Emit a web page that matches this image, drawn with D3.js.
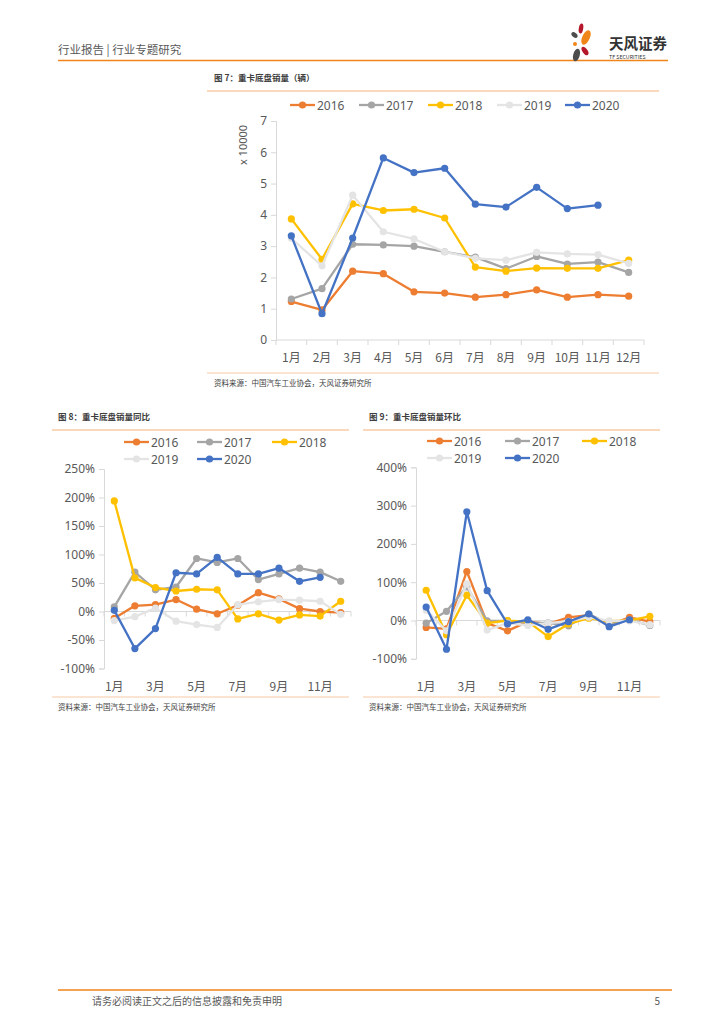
<!DOCTYPE html>
<html>
<head>
<meta charset="utf-8">
<script src="https://cdn.jsdelivr.net/npm/d3@7/dist/d3.min.js"></script>
<style>
html,body{margin:0;padding:0;background:#fff;}
svg{display:block;font-family:"Noto Sans CJK SC","Noto Sans",sans-serif;}
</style>
</head>
<body>
<svg id="page" width="724" height="1024"></svg>
<script>
// ---------- data ----------
const months = ["1月","2月","3月","4月","5月","6月","7月","8月","9月","10月","11月","12月"];
const years = ["2016","2017","2018","2019","2020"];
const colors = ["#ED7D31","#A5A5A5","#FFC000","#E4E4E4","#4472C4"];

// Fig 7: sales, x 10000 units
const sales2016 = [1.23,0.96,2.20,2.12,1.54,1.50,1.37,1.45,1.60,1.37,1.45,1.40];
const sales2017 = [1.31,1.64,3.06,3.04,3.00,2.82,2.65,2.28,2.67,2.43,2.49,2.16];
const sales2018 = [3.87,2.58,4.35,4.14,4.18,3.90,2.33,2.20,2.30,2.29,2.29,2.55];
const sales2019 = [3.25,2.37,4.63,3.46,3.23,2.82,2.61,2.55,2.80,2.75,2.73,2.45];
const sales2020 = [3.33,0.84,3.26,5.82,5.35,5.49,4.34,4.25,4.88,4.20,4.31];
const salesTicks = [0,1,2,3,4,5,6,7];

// Fig 8: YoY (%)
const yoy2016 = [-12,10,12,21,4,-4,11,33,22,5,0,-2];
const yoy2017 = [8,69,38,43,93,86,93,56,66,76,69,53];
const yoy2018 = [194,59,42,36,39,38,-13,-4,-15,-6,-8,18];
const yoy2019 = [-16,-9,6,-17,-23,-28,12,17,21,20,18,-5];
const yoy2020 = [2,-65,-30,68,66,95,66,66,76,53,60];
const yoyTicks = [-100,-50,0,50,100,150,200,250];

// Fig 9: MoM (%)
const mom2016 = [-18,-22,128,-7,-27,-3,-9,8,14,-12,8,-3];
const mom2017 = [-7,24,88,-1,-1,-6,-6,-14,17,-9,2,-13];
const mom2018 = [79,-37,66,-7,0,-3,-42,-9,6,-2,0,11];
const mom2019 = [27,-27,96,-25,-7,-13,-7,-2,9,-1,-1,-11];
const mom2020 = [35,-75,284,78,-9,2,-23,-3,17,-16,2];
const momTicks = [-100,0,100,200,300,400];
const sparseMonths = ["1月","3月","5月","7月","9月","11月"];

// ---------- page ----------
const svg = d3.select("#page");
const ORANGE = "#F08519";
const TXT = "#595959";

// header
svg.append("text").attr("x",58).attr("y",54).attr("font-size",11.5).attr("fill",TXT)
  .text("行业报告 | 行业专题研究");
svg.append("line").attr("x1",58).attr("x2",668).attr("y1",60.5).attr("y2",60.5)
  .attr("stroke",ORANGE).attr("stroke-width",1.3);
// logo
const logo = svg.append("g");
logo.append("ellipse").attr("cx",581).attr("cy",28.5).attr("rx",2.2).attr("ry",5).attr("transform","rotate(10,581,28.5)").attr("fill","#B5172B");
logo.append("ellipse").attr("cx",574.5).attr("cy",35).attr("rx",2.2).attr("ry",3.6).attr("transform","rotate(-50,574.5,35)").attr("fill","#4D4D4D");
logo.append("ellipse").attr("cx",586).attr("cy",37.5).attr("rx",3.8).attr("ry",7.8).attr("transform","rotate(25,586,37.5)").attr("fill","#F08519");
logo.append("ellipse").attr("cx",575).attr("cy",44).attr("rx",2).attr("ry",2).attr("fill","#F08519");
logo.append("ellipse").attr("cx",585).attr("cy",51).attr("rx",2.5).attr("ry",4.8).attr("transform","rotate(-35,585,51)").attr("fill","#B5172B");
logo.append("ellipse").attr("cx",576.5).attr("cy",55).attr("rx",3.3).attr("ry",6.5).attr("transform","rotate(15,576.5,55)").attr("fill","#4D4D4D");
svg.append("text").attr("x",609).attr("y",48.5).attr("font-size",14.5).attr("font-weight","bold").attr("fill","#333").text("天风证券");
svg.append("text").attr("x",609).attr("y",58.5).attr("font-size",5.3).attr("fill","#333").text("TF SECURITIES");

// footer
svg.append("line").attr("x1",58).attr("x2",672).attr("y1",990).attr("y2",990).attr("stroke",ORANGE).attr("stroke-width",1.3);
svg.append("text").attr("x",92).attr("y",1005).attr("font-size",10).attr("fill",TXT).text("请务必阅读正文之后的信息披露和免责申明");
svg.append("text").attr("x",660).attr("y",1005).attr("font-size",10).attr("fill",TXT).attr("text-anchor","end").text("5");

// ---------- chart helper ----------
function frame(cfg){
  svg.append("text").attr("x",cfg.tx).attr("y",cfg.ty).attr("font-size",8.5).attr("font-weight","bold").attr("fill","#404040").text(cfg.title);
  svg.append("line").attr("x1",cfg.fx1).attr("x2",cfg.fx2).attr("y1",cfg.ty+10).attr("y2",cfg.ty+10).attr("stroke","#F8CBA5").attr("stroke-width",1.5);
  svg.append("line").attr("x1",cfg.fx1).attr("x2",cfg.fx2).attr("y1",cfg.by).attr("y2",cfg.by).attr("stroke","#F8CBA5").attr("stroke-width",1.2);
  svg.append("text").attr("x",cfg.tx).attr("y",cfg.by+13).attr("font-size",7.5).attr("fill","#404040").text("资料来源：中国汽车工业协会，天风证券研究所");
}

function lineChart(cfg){
  const x = d3.scaleBand().domain(months).range([cfg.x0,cfg.x1]);
  const y = d3.scaleLinear().domain(cfg.domain).range([cfg.y0,cfg.y1]);
  const g = svg.append("g");
  // y axis
  const ya = g.append("g").attr("transform",`translate(${cfg.x0},0)`)
    .call(d3.axisLeft(y).tickValues(cfg.ticks).tickSize(5).tickPadding(cfg.ypad).tickFormat(cfg.yfmt));
  ya.select(".domain").attr("stroke","#D9D9D9");
  ya.selectAll(".tick line").attr("stroke","#D9D9D9");
  ya.selectAll(".tick text").attr("fill",TXT).attr("font-size",cfg.fs).attr("font-family","'Noto Sans','Noto Sans CJK SC',sans-serif");
  // x axis line at baseline
  const base = y(cfg.base);
  g.append("line").attr("x1",cfg.x0).attr("x2",cfg.x1).attr("y1",base).attr("y2",base).attr("stroke","#D9D9D9").attr("stroke-width",1);
  const edges = months.map(m=>x(m)).concat([x(months[11])+x.bandwidth()]);
  g.selectAll(".xt").data(edges).enter().append("line")
    .attr("x1",d=>d).attr("x2",d=>d).attr("y1",base).attr("y2",base+5).attr("stroke","#D9D9D9");
  // x labels
  g.selectAll(".xl").data(cfg.xlabels).enter().append("text")
    .attr("x",d=>x(d)+x.bandwidth()/2).attr("y",cfg.xly).attr("text-anchor","middle")
    .attr("font-size",cfg.fs).attr("fill",TXT).text(d=>d);
  // series
  const line = d3.line().x((d,i)=>x(months[i])+x.bandwidth()/2).y(d=>y(d));
  cfg.series.forEach((s,k)=>{
    g.append("path").datum(s).attr("d",line).attr("fill","none").attr("stroke",colors[k]).attr("stroke-width",2.3).attr("stroke-linejoin","round");
    g.selectAll(null).data(s).enter().append("circle")
      .attr("cx",(d,i)=>x(months[i])+x.bandwidth()/2).attr("cy",d=>y(d)).attr("r",3.6).attr("fill",colors[k]);
  });
  // legend
  cfg.legend.forEach((p,k)=>{
    const lg = g.append("g").attr("transform",`translate(${p[0]},${p[1]})`);
    lg.append("line").attr("x1",0).attr("x2",cfg.lw).attr("stroke",colors[k]).attr("stroke-width",2.3);
    lg.append("circle").attr("cx",cfg.lw/2).attr("r",3.6).attr("fill",colors[k]);
    lg.append("text").attr("x",cfg.lw+2).attr("y",4.5).attr("font-size",cfg.fs).attr("fill",TXT)
      .attr("font-family","'Noto Sans',sans-serif").text(years[k]);
  });
  return {x,y};
}

// ---------- Fig 7 ----------
frame({title:"图 7：重卡底盘销量（辆）",tx:214,ty:81,fx1:207,fx2:659,by:373});
lineChart({
  x0:276,x1:644,y0:340,y1:121,domain:[0,7],ticks:salesTicks,yfmt:d3.format("d"),ypad:4,fs:12,
  base:0,xlabels:months,xly:362,
  series:[sales2016,sales2017,sales2018,sales2019,sales2020],
  lw:25,legend:[[290,105],[359,105],[428,105],[497,105],[565,105]]
});
svg.append("text").attr("transform","translate(247,145) rotate(-90)").attr("text-anchor","middle")
  .attr("font-size",11).attr("fill",TXT).attr("font-family","'Noto Sans',sans-serif").text("x 10000");

// ---------- Fig 8 ----------
frame({title:"图 8：重卡底盘销量同比",tx:58,ty:420,fx1:52,fx2:349,by:697});
lineChart({
  x0:104,x1:351,y0:668.5,y1:469,domain:[-100,250],ticks:yoyTicks,yfmt:d=>d+"%",ypad:4,fs:12,
  base:0,xlabels:sparseMonths,xly:691,
  series:[yoy2016,yoy2017,yoy2018,yoy2019,yoy2020],
  lw:25,legend:[[124,442],[197,442],[272,442],[124,459],[197,459]]
});

// ---------- Fig 9 ----------
frame({title:"图 9：重卡底盘销量环比",tx:369,ty:420,fx1:363,fx2:660,by:697});
lineChart({
  x0:416,x1:660,y0:658.8,y1:467.3,domain:[-100,400],ticks:momTicks,yfmt:d=>d+"%",ypad:4,fs:12,
  base:0,xlabels:sparseMonths,xly:691,
  series:[mom2016,mom2017,mom2018,mom2019,mom2020],
  lw:25,legend:[[427,441],[505,441],[582,441],[427,458],[505,458]]
});
</script>
</body>
</html>
